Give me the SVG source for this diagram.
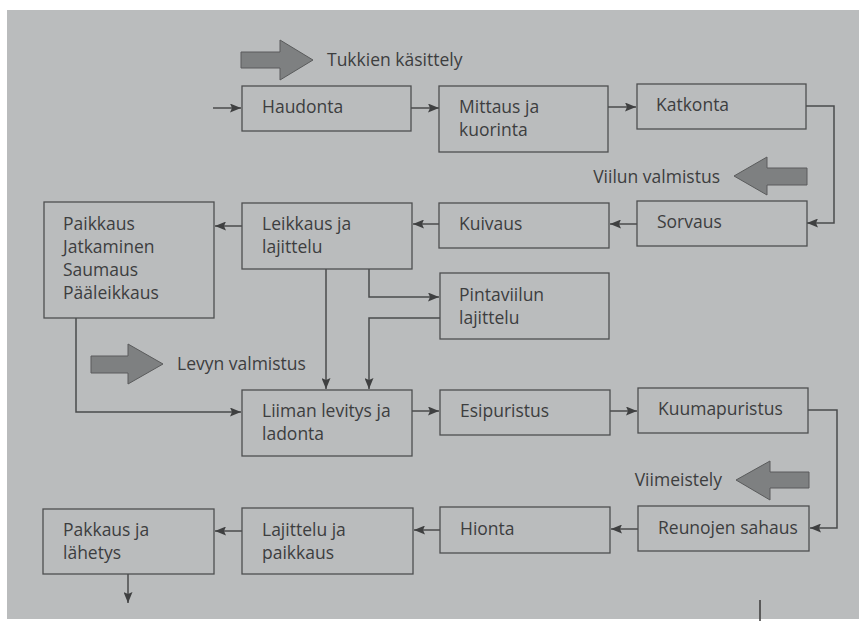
<svg xmlns="http://www.w3.org/2000/svg" width="859" height="621" viewBox="0 0 859 621">
<defs>
<style>
.box{fill:none;stroke:#4e4f50;stroke-width:1.3}
.t{font-family:"Open Sans","Noto Sans",sans-serif;font-size:17.5px;fill:#3d3e3f}
.c{fill:none;stroke:#4a4b4c;stroke-width:1.5}
.big{fill:#7e8081;stroke:#5a5b5c;stroke-width:1}
</style>
<marker id="ah" viewBox="0 0 11 9" refX="11" refY="4.5" markerWidth="11" markerHeight="9" markerUnits="userSpaceOnUse" orient="auto">
<path d="M0,0 L11,4.5 L0,9 L2,4.5 Z" fill="#3f4041"/>
</marker>
</defs>
<rect width="859" height="621" fill="#ffffff"/>
<rect x="7" y="10" width="852" height="609" fill="#babcbd"/>
<line x1="760" y1="600" x2="760" y2="621" stroke="#3a3a3a" stroke-width="1.5"/>

<g id="connectors">
<path class="c" d="M213,108 H241" marker-end="url(#ah)"/>
<path class="c" d="M411,108 H439" marker-end="url(#ah)"/>
<path class="c" d="M608,107 H636" marker-end="url(#ah)"/>
<path class="c" d="M806,106 H834 V223 H807" marker-end="url(#ah)"/>
<path class="c" d="M637,224 H610" marker-end="url(#ah)"/>
<path class="c" d="M439,224 H413" marker-end="url(#ah)"/>
<path class="c" d="M242,226 H215" marker-end="url(#ah)"/>
<path class="c" d="M369,269 V297 H439" marker-end="url(#ah)"/>
<path class="c" d="M440,318 H369 V389" marker-end="url(#ah)"/>
<path class="c" d="M326,269 V389" marker-end="url(#ah)"/>
<path class="c" d="M76,318 V412 H241" marker-end="url(#ah)"/>
<path class="c" d="M412,411 H439" marker-end="url(#ah)"/>
<path class="c" d="M610,411 H637" marker-end="url(#ah)"/>
<path class="c" d="M808,410 H837 V528 H810" marker-end="url(#ah)"/>
<path class="c" d="M638,529 H611" marker-end="url(#ah)"/>
<path class="c" d="M440,530 H414" marker-end="url(#ah)"/>
<path class="c" d="M242,531 H215" marker-end="url(#ah)"/>
<path class="c" d="M128,574 V603" marker-end="url(#ah)"/>
</g>

<g id="stage-tukkien">
<path class="big" d="M241,52 H280 V40 L313,60 L280,80 V68 H241 Z"/>
<text class="t" x="327" y="66">Tukkien käsittely</text>
</g>
<g id="stage-viilun">
<path class="big" d="M807,168 H767 V157 L734,176 L767,195 V185 H807 Z"/>
<text class="t" x="720" y="183" text-anchor="end">Viilun valmistus</text>
</g>
<g id="stage-levyn">
<path class="big" d="M91,356 H128 V344 L163,364 L128,384 V373 H91 Z"/>
<text class="t" x="177" y="370">Levyn valmistus</text>
</g>
<g id="stage-viimeistely">
<path class="big" d="M809,472 H770 V461 L736,480 L770,500 V488 H809 Z"/>
<text class="t" x="722" y="486" text-anchor="end">Viimeistely</text>
</g>

<g id="haudonta"><rect class="box" x="242" y="86" width="169" height="45"/><text class="t" x="262" y="113">Haudonta</text></g>
<g id="mittaus"><rect class="box" x="439" y="86" width="169" height="66"/><text class="t" x="459" y="113">Mittaus ja</text><text class="t" x="459" y="136">kuorinta</text></g>
<g id="katkonta"><rect class="box" x="637" y="84" width="169" height="45"/><text class="t" x="656" y="111">Katkonta</text></g>
<g id="sorvaus"><rect class="box" x="637" y="201" width="170" height="45"/><text class="t" x="657" y="228">Sorvaus</text></g>
<g id="kuivaus"><rect class="box" x="439" y="203" width="170" height="45"/><text class="t" x="459" y="230">Kuivaus</text></g>
<g id="leikkaus"><rect class="box" x="242" y="203" width="170" height="66"/><text class="t" x="262" y="230">Leikkaus ja</text><text class="t" x="262" y="253">lajittelu</text></g>
<g id="paikkaus"><rect class="box" x="44" y="202" width="170" height="116"/><text class="t" x="63" y="230">Paikkaus</text><text class="t" x="63" y="253">Jatkaminen</text><text class="t" x="63" y="276">Saumaus</text><text class="t" x="63" y="299">Pääleikkaus</text></g>
<g id="pintaviilun"><rect class="box" x="440" y="273" width="169" height="66"/><text class="t" x="459" y="301">Pintaviilun</text><text class="t" x="459" y="324">lajittelu</text></g>
<g id="liiman"><rect class="box" x="242" y="390" width="170" height="66"/><text class="t" x="262" y="417">Liiman levitys ja</text><text class="t" x="262" y="440">ladonta</text></g>
<g id="esipuristus"><rect class="box" x="440" y="390" width="170" height="45"/><text class="t" x="460" y="417">Esipuristus</text></g>
<g id="kuumapuristus"><rect class="box" x="638" y="388" width="170" height="45"/><text class="t" x="658" y="415">Kuumapuristus</text></g>
<g id="reunojen"><rect class="box" x="638" y="506" width="171" height="45"/><text class="t" x="658" y="534">Reunojen sahaus</text></g>
<g id="hionta"><rect class="box" x="440" y="507" width="170" height="46"/><text class="t" x="460" y="535">Hionta</text></g>
<g id="lajittelu"><rect class="box" x="242" y="508" width="171" height="66"/><text class="t" x="262" y="536">Lajittelu ja</text><text class="t" x="262" y="559">paikkaus</text></g>
<g id="pakkaus"><rect class="box" x="43" y="509" width="171" height="65"/><text class="t" x="63" y="536">Pakkaus ja</text><text class="t" x="63" y="559">lähetys</text></g>
</svg>
